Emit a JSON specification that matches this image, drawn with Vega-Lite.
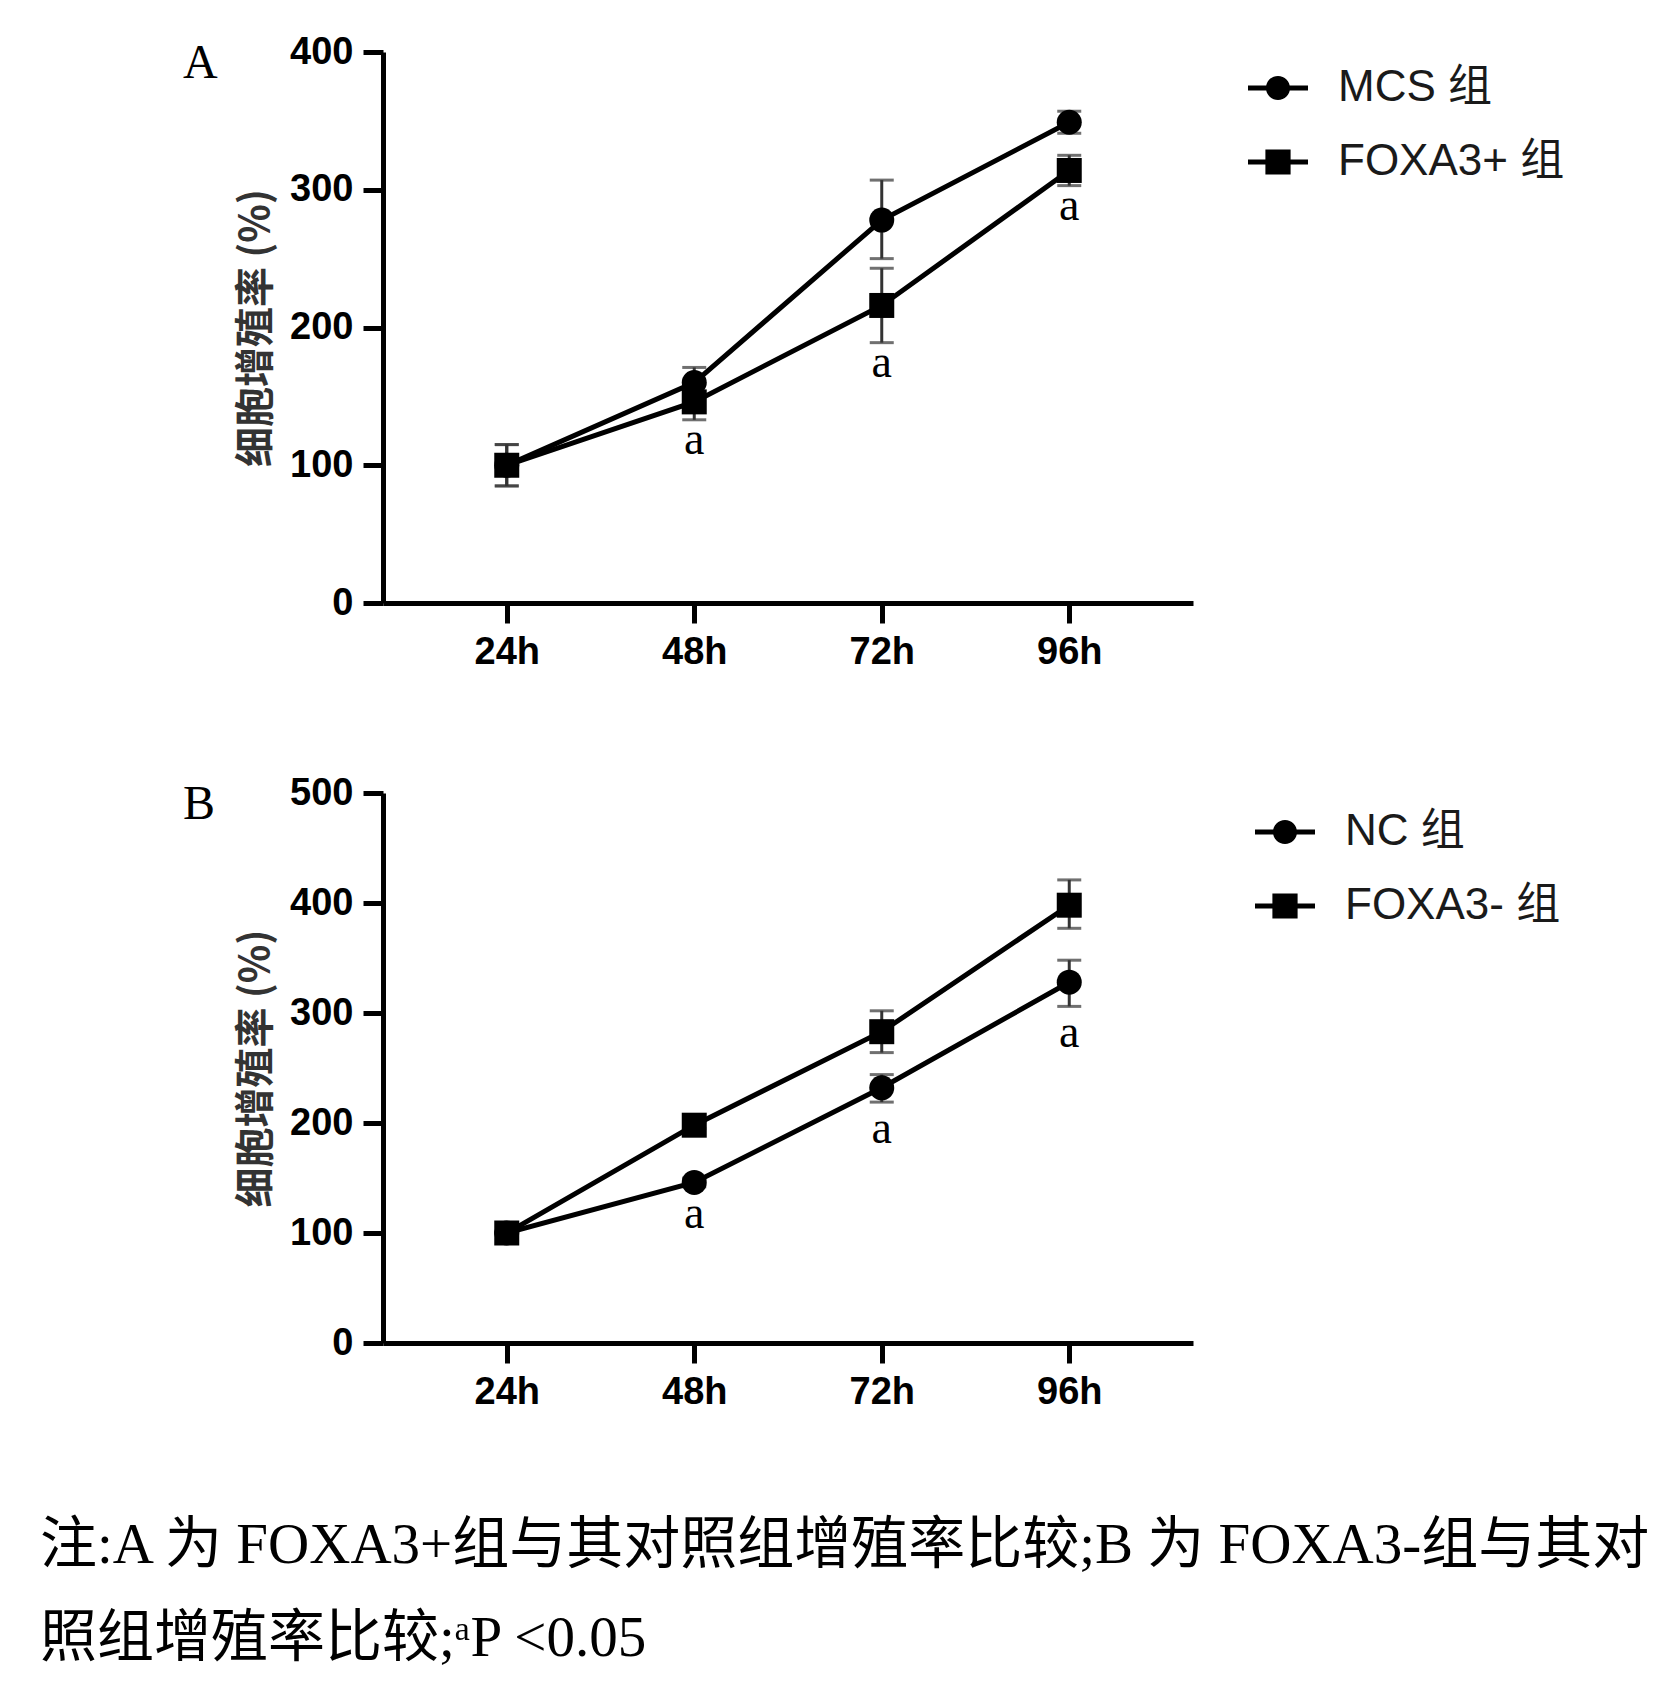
{
  "$schema": "https://vega.github.io/schema/vega-lite/v6.json",
  "background": "white",
  "padding": {"left": 40, "top": 33, "right": 10, "bottom": 5},
  "config": {
    "view": {"stroke": null},
    "axis": {
      "domainColor": "black", "domainWidth": 5, "tickColor": "black", "tickWidth": 5, "tickSize": 20,
      "labelFont": "Liberation Sans", "labelFontWeight": "bold", "labelFontSize": 38, "labelColor": "black", "labelPadding": 10,
      "grid": false,
      "titleFont": "Noto Sans CJK SC", "titleFontSize": 40, "titleFontWeight": "bold", "titleColor": "#333", "titlePadding": 13
    },
    "legend": {
      "labelFont": "Liberation Sans, Noto Sans CJK SC", "labelFontSize": 44, "labelColor": "#1a1a1a", "labelLimit": 400,
      "labelOffset": 30, "symbolSize": 3600, "symbolStrokeWidth": 0, "rowPadding": 22, "padding": 6, "offset": 49
    }
  },
  "title": {
    "text": ["注:A 为 FOXA3+组与其对照组增殖率比较;B 为 FOXA3-组与其对", "照组增殖率比较;ᵃP <0.05"],
    "orient": "bottom", "anchor": "start", "frame": "bounds", "dx": -143, "offset": 107,
    "font": "Liberation Serif, Noto Sans CJK SC", "fontSize": 57, "fontWeight": "normal", "lineHeight": 93, "color": "black"
  },
  "datasets": {
    "growth": [
      {"panel": "A", "group": "MCS 组", "time": "24h", "value": 100, "lo": 85, "hi": 115, "sig": ""},
      {"panel": "A", "group": "MCS 组", "time": "48h", "value": 160, "lo": 150, "hi": 171, "sig": ""},
      {"panel": "A", "group": "MCS 组", "time": "72h", "value": 278, "lo": 250, "hi": 307, "sig": ""},
      {"panel": "A", "group": "MCS 组", "time": "96h", "value": 349, "lo": 341, "hi": 357, "sig": ""},
      {"panel": "A", "group": "FOXA3+ 组", "time": "24h", "value": 100, "lo": 85, "hi": 115, "sig": ""},
      {"panel": "A", "group": "FOXA3+ 组", "time": "48h", "value": 146, "lo": 133, "hi": 159, "sig": "a"},
      {"panel": "A", "group": "FOXA3+ 组", "time": "72h", "value": 216, "lo": 189, "hi": 243, "sig": "a"},
      {"panel": "A", "group": "FOXA3+ 组", "time": "96h", "value": 314, "lo": 303, "hi": 325, "sig": "a"},
      {"panel": "B", "group": "NC 组", "time": "24h", "value": 100, "lo": 100, "hi": 100, "sig": ""},
      {"panel": "B", "group": "NC 组", "time": "48h", "value": 146, "lo": 142, "hi": 150, "sig": "a"},
      {"panel": "B", "group": "NC 组", "time": "72h", "value": 232, "lo": 219, "hi": 244, "sig": "a"},
      {"panel": "B", "group": "NC 组", "time": "96h", "value": 328, "lo": 306, "hi": 348, "sig": "a"},
      {"panel": "B", "group": "FOXA3- 组", "time": "24h", "value": 100, "lo": 100, "hi": 100, "sig": ""},
      {"panel": "B", "group": "FOXA3- 组", "time": "48h", "value": 198, "lo": 195, "hi": 201, "sig": ""},
      {"panel": "B", "group": "FOXA3- 组", "time": "72h", "value": 283, "lo": 264, "hi": 302, "sig": ""},
      {"panel": "B", "group": "FOXA3- 组", "time": "96h", "value": 398, "lo": 377, "hi": 421, "sig": ""}
    ]
  },
  "bounds": "flush",
  "spacing": 190,
  "vconcat": [
    {
      "width": 810,
      "height": 551,
      "title": {"text": "A", "anchor": "start", "frame": "group", "dx": -200, "offset": -55, "font": "Liberation Serif", "fontSize": 48, "fontWeight": "normal", "color": "black"},
      "data": {"name": "growth"},
      "transform": [{"filter": "datum.panel == 'A'"}],
      "encoding": {
        "x": {"field": "time", "type": "ordinal", "scale": {"type": "point", "domain": ["24h", "48h", "72h", "96h"], "padding": 0.66}, "axis": {"title": null, "labelAngle": 0}}
      },
      "layer": [
        {
          "mark": {"type": "errorbar", "color": "#333", "thickness": 3, "ticks": {"size": 24, "thickness": 3}},
          "encoding": {
            "y": {"field": "lo", "type": "quantitative", "scale": {"domain": [0, 400], "nice": false}, "axis": {"values": [0, 100, 200, 300, 400]}, "title": "细胞增殖率 (%)"},
            "y2": {"field": "hi"}
          }
        },
        {
          "mark": {"type": "line", "color": "black", "strokeWidth": 5},
          "encoding": {
            "y": {"field": "value", "type": "quantitative", "title": "细胞增殖率 (%)"},
            "detail": {"field": "group"}
          }
        },
        {
          "mark": {"type": "point", "filled": true, "color": "black", "size": 625, "opacity": 1},
          "encoding": {
            "y": {"field": "value", "type": "quantitative", "title": "细胞增殖率 (%)"},
            "shape": {"field": "group", "scale": {"domain": ["MCS 组", "FOXA3+ 组"], "range": ["circle", "square"]}, "legend": null}
          }
        },
        {
          "transform": [{"filter": "datum.sig == 'a'"}],
          "mark": {"type": "text", "font": "Liberation Serif", "fontSize": 46, "baseline": "middle", "dy": 20, "color": "black"},
          "encoding": {
            "y": {"field": "lo", "type": "quantitative", "title": "细胞增殖率 (%)"},
            "text": {"field": "sig"}
          }
        },
        {
          "transform": [{"filter": "datum.panel == 'none'"}],
          "mark": {"type": "point", "filled": true, "color": "black", "opacity": 1},
          "encoding": {
            "y": {"field": "value", "type": "quantitative", "title": "细胞增殖率 (%)"},
            "shape": {
              "field": "group",
              "scale": {"domain": ["MCS 组", "FOXA3+ 组"], "range": ["M-1,-0.08H1V0.08H-1Z M-0.4,0A0.4,0.4 0 1,1 0.4,0A0.4,0.4 0 1,1 -0.4,0Z", "M-1,-0.08H1V0.08H-1Z M-0.42,-0.42H0.42V0.42H-0.42Z"]},
              "legend": {"title": null, "orient": "right"}
            }
          }
        }
      ],
      "resolve": {"scale": {"shape": "independent"}, "legend": {"shape": "independent"}}
    },
    {
      "width": 810,
      "height": 550,
      "title": {"text": "B", "anchor": "start", "frame": "group", "dx": -200, "offset": -55, "font": "Liberation Serif", "fontSize": 48, "fontWeight": "normal", "color": "black"},
      "data": {"name": "growth"},
      "transform": [{"filter": "datum.panel == 'B'"}],
      "encoding": {
        "x": {"field": "time", "type": "ordinal", "scale": {"type": "point", "domain": ["24h", "48h", "72h", "96h"], "padding": 0.66}, "axis": {"title": null, "labelAngle": 0}}
      },
      "layer": [
        {
          "mark": {"type": "errorbar", "color": "#333", "thickness": 3, "ticks": {"size": 24, "thickness": 3}},
          "encoding": {
            "y": {"field": "lo", "type": "quantitative", "scale": {"domain": [0, 500], "nice": false}, "axis": {"values": [0, 100, 200, 300, 400, 500]}, "title": "细胞增殖率 (%)"},
            "y2": {"field": "hi"}
          }
        },
        {
          "mark": {"type": "line", "color": "black", "strokeWidth": 5},
          "encoding": {
            "y": {"field": "value", "type": "quantitative", "title": "细胞增殖率 (%)"},
            "detail": {"field": "group"}
          }
        },
        {
          "mark": {"type": "point", "filled": true, "color": "black", "size": 625, "opacity": 1},
          "encoding": {
            "y": {"field": "value", "type": "quantitative", "title": "细胞增殖率 (%)"},
            "shape": {"field": "group", "scale": {"domain": ["NC 组", "FOXA3- 组"], "range": ["circle", "square"]}, "legend": null}
          }
        },
        {
          "transform": [{"filter": "datum.sig == 'a'"}],
          "mark": {"type": "text", "font": "Liberation Serif", "fontSize": 46, "baseline": "middle", "dy": 27, "color": "black"},
          "encoding": {
            "y": {"field": "lo", "type": "quantitative", "title": "细胞增殖率 (%)"},
            "text": {"field": "sig"}
          }
        },
        {
          "transform": [{"filter": "datum.panel == 'none'"}],
          "mark": {"type": "point", "filled": true, "color": "black", "opacity": 1},
          "encoding": {
            "y": {"field": "value", "type": "quantitative", "title": "细胞增殖率 (%)"},
            "shape": {
              "field": "group",
              "scale": {"domain": ["NC 组", "FOXA3- 组"], "range": ["M-1,-0.08H1V0.08H-1Z M-0.4,0A0.4,0.4 0 1,1 0.4,0A0.4,0.4 0 1,1 -0.4,0Z", "M-1,-0.08H1V0.08H-1Z M-0.42,-0.42H0.42V0.42H-0.42Z"]},
              "legend": {"title": null, "orient": "right", "padding": 9, "offset": 53}
            }
          }
        }
      ],
      "resolve": {"scale": {"shape": "independent"}, "legend": {"shape": "independent"}}
    }
  ]
}
